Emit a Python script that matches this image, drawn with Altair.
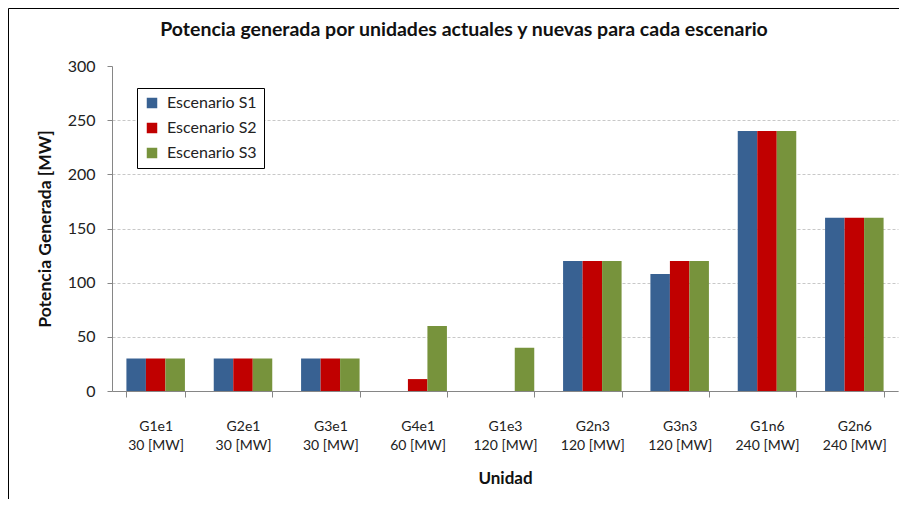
import altair as alt
import pandas as pd

title_text = "Potencia generada por unidades actuales y nuevas para cada escenario"
units = ["G1e1", "G2e1", "G3e1", "G4e1", "G1e3", "G2n3", "G3n3", "G1n6", "G2n6"]
capacities = ["30 [MW]", "30 [MW]", "30 [MW]", "60 [MW]", "120 [MW]", "120 [MW]", "120 [MW]", "240 [MW]", "240 [MW]"]
scenarios = ["Escenario S1", "Escenario S2", "Escenario S3"]
s1 = [30, 30, 30, 0, 0, 120, 108, 240, 160]
s2 = [30, 30, 30, 11, 0, 120, 120, 240, 160]
s3 = [30, 30, 30, 60, 40, 120, 120, 240, 160]
colors = ["#386192", "#C00000", "#77933C"]

rows = []
labels = [f"{u}|{c}" for u, c in zip(units, capacities)]
for lab, a, b, c in zip(labels, s1, s2, s3):
    for sc, v in zip(scenarios, (a, b, c)):
        rows.append({"Unidad": lab, "Escenario": sc, "Potencia": v})
df = pd.DataFrame(rows)

FONT = "Lato"
W, H = 786, 325

bars = alt.Chart(df).mark_bar().encode(
    x=alt.X("Unidad:N", sort=labels,
            scale=alt.Scale(paddingInner=0.33, paddingOuter=0.165),
            axis=alt.Axis(title="Unidad", labelAngle=0,
                          labelExpr="split(datum.label, '|')",
                          labelLineHeight=19, labelPadding=22,
                          labelFontSize=14, labelColor="#222222",
                          tickBand="extent", tickSize=6, tickColor="#868686",
                          domainColor="#868686",
                          titleFontSize=17, titleFontWeight="bold",
                          titlePadding=18, titleColor="#111111")),
    xOffset=alt.XOffset("Escenario:N", sort=scenarios, scale=alt.Scale(paddingInner=0, paddingOuter=0)),
    y=alt.Y("Potencia:Q",
            scale=alt.Scale(domain=[0, 300]),
            axis=alt.Axis(title="Potencia Generada [MW]", values=[0, 50, 100, 150, 200, 250, 300],
                          labelFontSize=16, labelColor="#222222", labelPadding=12,
                          tickSize=5, tickColor="#868686", domainColor="#868686",
                          gridDash=[3, 2], gridColor="#C8C8C8",
                          gridOpacity={"condition": {"test": "datum.value == 300", "value": 0}, "value": 1},
                          titleFontSize=17.5, titleFontWeight="bold",
                          titlePadding=13, titleColor="#111111")),
    color=alt.Color("Escenario:N", sort=scenarios,
                    scale=alt.Scale(domain=scenarios, range=colors),
                    legend=alt.Legend(title=None, orient="none", legendX=25, legendY=22,
                                      symbolType="square", symbolSize=110,
                                      symbolStrokeWidth=0, labelOffset=7,
                                      labelFontSize=16, labelColor="#222222",
                                      rowPadding=9, padding=7,
                                      strokeColor="#000000", fillColor="#FFFFFF")),
)

frame = alt.Chart(pd.DataFrame({"a": [0]})).mark_rect(
    fill=None, stroke="#000000", strokeWidth=1
).encode(
    x=alt.value(-103.5), x2=alt.value(W + 3.5),
    y=alt.value(-57.5), y2=alt.value(H + 140),
)

title = alt.Chart(pd.DataFrame({"t": [title_text]})).mark_text(
    fontSize=19.5, fontWeight="bold", color="#111111", align="center", baseline="middle"
).encode(
    text="t:N", x=alt.value(352), y=alt.value(-36),
)

chart = alt.layer(frame, bars, title).properties(
    width=W, height=H,
    autosize=alt.AutoSizeParams(type="none"),
    padding={"left": 104, "top": 58, "right": 1, "bottom": 108},
).configure(font=FONT).configure_view(stroke=None)

chart.save("out.html", embed_options={"renderer": "svg", "actions": False})
